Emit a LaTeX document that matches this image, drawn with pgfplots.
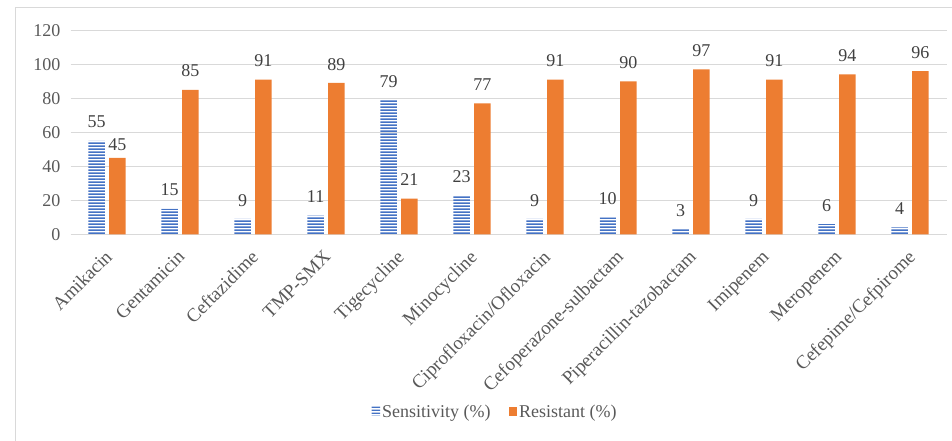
\documentclass[border=0pt]{standalone}
\usepackage{pgfplots}
\usepackage{pgfplotstable}
\pgfplotsset{compat=1.18}
\usepackage{fontspec}
\setmainfont{Liberation Serif}
\usetikzlibrary{patterns}
\pgfdeclarepatternformonly{hthick}{\pgfpointorigin}{\pgfqpoint{200pt}{3.4pt}}{\pgfqpoint{200pt}{3.4pt}}%
{\pgfpathrectangle{\pgfpointorigin}{\pgfqpoint{200pt}{1.9pt}}\pgfusepath{fill}}
\pgfdeclarepatternformonly{hthin}{\pgfpointorigin}{\pgfqpoint{200pt}{3pt}}{\pgfqpoint{200pt}{3pt}}%
{\pgfpathrectangle{\pgfpointorigin}{\pgfqpoint{200pt}{1.6pt}}\pgfusepath{fill}}
\definecolor{barblue}{HTML}{4472C4}
\definecolor{barorange}{HTML}{ED7D31}
\definecolor{txt}{HTML}{595959}
\definecolor{lbl}{HTML}{404040}
\definecolor{gridc}{HTML}{D9D9D9}
\pgfplotstableread{
x sens soff res roff
0 55 12.5 45 6.5
1 15 12.5 85 12.5
2 9 12.5 91 12.5
3 11 12.5 89 12.5
4 79 12.5 21 12.5
5 23 12.5 77 12.5
6 9 12.5 91 12.5
7 10 12.5 90 12.5
8 3 12.5 97 12.5
9 9 12.5 91 12.5
10 6 12.5 94 12.5
11 4 12.5 96 12.5
}\datatable
\begin{document}
\begin{tikzpicture}[x=1pt,y=1pt]
\path[use as bounding box] (0,0) rectangle (952,441);
\draw[gridc, line width=1pt] (15.5,-20) -- (15.5,433) -- (960,433);
\begin{axis}[
  at={(70.5pt,206.7pt)}, anchor=south west,
  scale only axis, width=876pt, height=204pt,
  xmin=-0.5, xmax=11.5, ymin=0, ymax=120,
  ybar=4.3pt, bar width=16.5pt,
  axis line style={draw=none},
  major tick length=0pt,
  ytick={0,20,...,120},
  ymajorgrids, grid style={gridc, line width=1pt},
  xtick={0,...,11},
  xticklabels={Amikacin,Gentamicin,Ceftazidime,TMP-SMX,Tigecycline,Minocycline,Ciprofloxacin/Ofloxacin,Cefoperazone-sulbactam,Piperacillin-tazobactam,Imipenem,Meropenem,Cefepime/Cefpirome},
  /pgf/number format/assume math mode=true,
  yticklabel style={font=\fontsize{18}{21}\selectfont, text=txt, inner sep=0pt, xshift=-10pt},
  xticklabel style={font=\fontsize{19}{21}\selectfont, text=txt, inner sep=0pt, xshift=-3.2pt, yshift=-14.5pt, rotate=45, anchor=north east},
  nodes near coords,
  nodes near coords style={font=\fontsize{18}{21}\selectfont, text=lbl, anchor=south, inner sep=0pt, yshift=\off pt},
  legend style={at={(0.4846,-0.87)}, anchor=center, legend columns=2, draw=none, fill=none,
    font=\fontsize{18}{21}\selectfont, text=txt, nodes={inner sep=2pt},
    /tikz/every even column/.append style={column sep=16pt}},
]
\addplot[draw=none, pattern=hthick, pattern color=barblue,
  visualization depends on={\thisrow{soff} \as \off},
  legend image code/.code={\fill[pattern=hthin, pattern color=barblue] (0pt,-4pt) rectangle (8.5pt,5pt);}]
  table[x=x, y=sens] {\datatable};
\addlegendentry{Sensitivity (\%)}
\addplot[draw=none, fill=barorange,
  visualization depends on={\thisrow{roff} \as \off},
  legend image code/.code={\fill[barorange] (0pt,-4pt) rectangle (8.5pt,4.5pt);}]
  table[x=x, y=res] {\datatable};
\addlegendentry{Resistant (\%)}
\end{axis}
\end{tikzpicture}
\end{document}
